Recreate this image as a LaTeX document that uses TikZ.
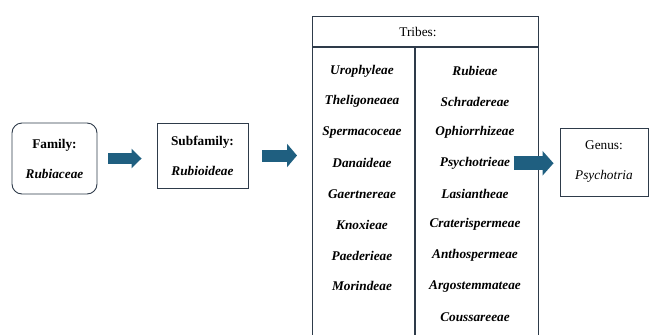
\documentclass[tikz,border=0pt]{standalone}
\usepackage{fontspec}
\setmainfont{Liberation Serif}
\usetikzlibrary{arrows.meta}
\definecolor{boxline}{HTML}{2E3B4A}
\definecolor{arrowblue}{HTML}{1F5F80}
\tikzset{
  taxbox/.style={draw=boxline,line width=0.9pt,align=center,inner sep=0pt,
    font=\fontsize{13.3pt}{30pt}\selectfont},
  tribe/.style={font=\fontsize{13.3pt}{16pt}\selectfont\bfseries\itshape},
  blockarrow/.style={draw=arrowblue,line width=10.5pt,-{Triangle[length=10pt,width=19pt]}},
  bigarrow/.style={draw=arrowblue,line width=14pt,-{Triangle[length=11pt,width=24pt]}}
}
\begin{document}
\begin{tikzpicture}[x=1pt,y=-1pt]
\useasboundingbox (0,0) rectangle (649,335);
\clip (0,0) rectangle (649,335);
\node[taxbox,rounded corners=10pt,minimum width=85pt,minimum height=71pt] (fam) at (54.5,158.5) {\textbf{Family:}\\\textbf{\textit{Rubiaceae}}};
\node[taxbox,minimum width=91pt,minimum height=65pt] (sub) at (202.5,155.5) {\textbf{Subfamily:}\\\textbf{\textit{Rubioideae}}};
\node[taxbox,minimum width=88pt,minimum height=68pt] (genus) at (604,162) {Genus:\\\textit{Psychotria}};
\node[draw=boxline,line width=1.2pt,anchor=north west,minimum width=226pt,minimum height=340pt,inner sep=0pt] (tribes) at (312,16) {};
\node[font=\fontsize{13.3pt}{16pt}\selectfont] (hdr) at (418,31.5) {Tribes:};
\draw[boxline,line width=1.2pt] ([yshift=-31pt]tribes.north west) -- ([yshift=-31pt]tribes.north east);
\draw[boxline,line width=1.2pt] ([xshift=103pt,yshift=-31pt]tribes.north west) -- ([xshift=103pt]tribes.south west);
\foreach \t [count=\i from 0] in {Urophyleae,Theligoneaea,Spermacoceae,Danaideae,Gaertnereae,Knoxieae,Paederieae,Morindeae}
  \node[tribe] (l\i) at (362,{71+30.75*\i}) {\t};
\foreach \t [count=\i from 0] in {Rubieae,Schradereae,Ophiorrhizeae,Psychotrieae,Lasiantheae,Craterispermeae,Anthospermeae,Argostemmateae,Coussareeae}
  \node[tribe] (r\i) at (475,{71+30.75*\i}) {\t};
\draw[blockarrow] ([xshift=11pt]fam.east) -- ([xshift=-15pt]sub.west |- fam.east);
\draw[blockarrow,line width=12pt,-{Triangle[length=10pt,width=23pt]}] ([xshift=14pt]sub.east) -- ([xshift=-15pt]tribes.west |- sub.east);
\draw[bigarrow] ([xshift=-46pt]genus.west |- r3) -- ([xshift=-6pt]genus.west |- r3);
\end{tikzpicture}
\end{document}
